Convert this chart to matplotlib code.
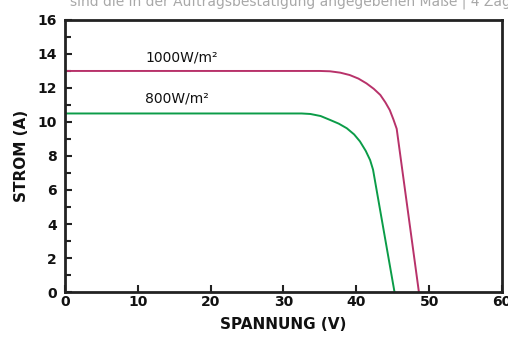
import numpy as np
import matplotlib
matplotlib.use("Agg")
import matplotlib.pyplot as plt
from matplotlib.ticker import MultipleLocator

# Kennlinien (Spannung V, Strom A)
v_1000 = [0, 10, 20, 30, 35.0, 36.4, 37.8, 39.1, 40.3, 41.4, 42.4, 43.3, 44.0, 44.6, 45.1, 45.55, 48.6]
i_1000 = [13.0, 13.0, 13.0, 13.0, 13.0, 12.98, 12.9, 12.76, 12.55, 12.27, 11.95, 11.59, 11.15, 10.7, 10.15, 9.6, 0.0]

v_800 = [0, 10, 20, 30, 32.5, 33.7, 35.1, 36.4, 37.6, 38.7, 39.7, 40.5, 41.3, 41.9, 42.3, 45.25]
i_800 = [10.5, 10.5, 10.5, 10.5, 10.5, 10.47, 10.35, 10.12, 9.9, 9.63, 9.27, 8.86, 8.3, 7.76, 7.2, 0.0]

labels = ["1000W/m²", "800W/m²"]
label_pos = [(11, 13.8), (11, 11.4)]

plt.rcParams['font.family'] = ['DejaVu Sans']

fig = plt.figure(figsize=(5.08, 3.38), dpi=100)
fig.patch.set_facecolor("white")
ax = fig.add_axes([0.128, 0.136, 0.86, 0.805])

ax.plot(v_1000, i_1000, color="#b8326a", lw=1.4, solid_joinstyle="round")
ax.plot(v_800, i_800, color="#0b9c48", lw=1.4, solid_joinstyle="round")

for txt, (x, y) in zip(labels, label_pos):
    ax.text(x, y, txt, fontsize=10, va="center", ha="left", color="#111")

ax.set_xlim(0, 60)
ax.set_ylim(0, 16)
ax.xaxis.set_major_locator(MultipleLocator(10))
ax.yaxis.set_major_locator(MultipleLocator(2))
ax.yaxis.set_minor_locator(MultipleLocator(1))
ax.tick_params(axis="both", which="both", direction="in", width=1.5, color="#222",
               labelsize=10, labelcolor="#111")
ax.tick_params(axis="x", which="major", length=5, pad=2)
ax.tick_params(axis="y", which="major", length=5, pad=6)
ax.tick_params(axis="y", which="minor", length=4)
for lab in ax.get_xticklabels() + ax.get_yticklabels():
    lab.set_fontweight("bold")

for s in ax.spines.values():
    s.set_linewidth(2)
    s.set_color("#222")

ax.set_xlabel("SPANNUNG (V)", fontsize=11, fontweight="bold", color="#111", labelpad=6)
ax.set_ylabel("STROM (A)", fontsize=11, fontweight="bold", color="#111", labelpad=6)

# oben abgeschnittener Hinweistext wie im Original
fig.text(0.138, 0.983, "sind die in der Auftragsbestätigung angegebenen Maße | 4 Zag",
         fontsize=10, color="#a8a8a8", va="baseline", ha="left")

fig.savefig("out.png", dpi=100)
